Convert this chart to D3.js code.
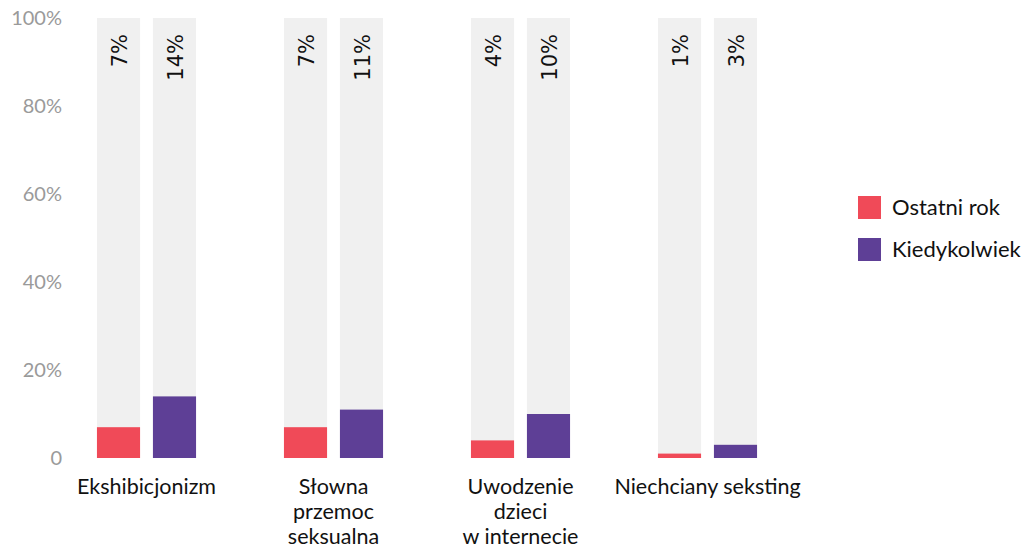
<!DOCTYPE html>
<html>

<head>
  <meta charset="utf-8">
  <title>Przemoc seksualna</title>
  <script src="https://cdn.jsdelivr.net/npm/d3@7"></script>
  <style>
    body { margin: 0; background: #fff; }
  </style>
</head>

<body>
  <svg width="1023" height="546" id="mainsvg"></svg>
  <script>
    const categories = [['Ekshibicjonizm'], ['Słowna', 'przemoc', 'seksualna'], ['Uwodzenie', 'dzieci', 'w internecie'], ['Niechciany seksting']];
    const seriesNames = ['Ostatni rok', 'Kiedykolwiek'];
    const lastYear = [7, 7, 4, 1];
    const ever = [14, 11, 10, 3];
    const yTicks = [0, 20, 40, 60, 80, 100];
    const colors = ['#f04a58', '#5e3f96'];

    const svg = d3.select('#mainsvg');
    const keys = categories.map(c => c.join(' '));
    const rows = keys.map((k, i) => ({ key: k, lines: categories[i], values: [lastYear[i], ever[i]] }));

    const y = d3.scaleLinear().domain([0, 100]).range([458, 18]);
    const x0 = d3.scaleBand().domain(keys).range([53, 801]).paddingInner(0.47).paddingOuter(0.235);
    const x1 = d3.scaleBand().domain(seriesNames).range([0, x0.bandwidth()]).paddingInner(0.23);

    // y axis, labels only
    svg.append('g').selectAll('text').data(yTicks).join('text')
      .attr('x', 62)
      .attr('y', d => y(d))
      .attr('dy', '0.35em')
      .attr('text-anchor', 'end')
      .attr('fill', '#9a9a9a')
      .attr('font-family', 'Lato, sans-serif')
      .attr('font-size', 20)
      .text(d => d === 0 ? '0' : d + '%');

    const groups = svg.append('g').selectAll('g').data(rows).join('g')
      .attr('transform', d => `translate(${x0(d.key)},0)`);

    const bars = groups.selectAll('g').data(d => d.values.map((v, i) => ({ s: seriesNames[i], v, i })))
      .join('g')
      .attr('transform', d => `translate(${x1(d.s)},0)`);

    bars.append('rect')
      .attr('y', y(100))
      .attr('width', x1.bandwidth())
      .attr('height', y(0) - y(100))
      .attr('fill', '#f0f0f0');

    bars.append('rect')
      .attr('y', d => y(d.v))
      .attr('width', x1.bandwidth())
      .attr('height', d => y(0) - y(d.v))
      .attr('fill', d => colors[d.i]);

    bars.append('text')
      .attr('transform', `translate(${x1.bandwidth() / 2 + 1},${y(100) + 16}) rotate(-90)`)
      .attr('dy', '0.35em')
      .attr('text-anchor', 'end')
      .attr('fill', '#111')
      .attr('font-family', '"DejaVu Sans", sans-serif')
      .attr('font-size', 21)
      .text(d => d.v + '%');

    // category labels
    groups.append('text')
      .attr('x', x0.bandwidth() / 2)
      .attr('y', 494)
      .attr('text-anchor', 'middle')
      .attr('fill', '#111')
      .attr('font-family', 'Lato, sans-serif')
      .attr('font-size', 21.5)
      .selectAll('tspan').data(d => d.lines).join('tspan')
      .attr('x', x0.bandwidth() / 2)
      .attr('dy', (d, i) => i === 0 ? 0 : 25)
      .text(d => d);

    // legend
    const legend = svg.append('g').selectAll('g').data(seriesNames).join('g')
      .attr('transform', (d, i) => `translate(858,${196 + i * 42})`);
    legend.append('rect')
      .attr('width', 23)
      .attr('height', 23)
      .attr('fill', (d, i) => colors[i]);
    legend.append('text')
      .attr('x', 34)
      .attr('y', 11.5)
      .attr('dy', '0.35em')
      .attr('fill', '#111')
      .attr('font-family', 'Lato, sans-serif')
      .attr('font-size', 22)
      .text(d => d);
  </script>
</body>

</html>
